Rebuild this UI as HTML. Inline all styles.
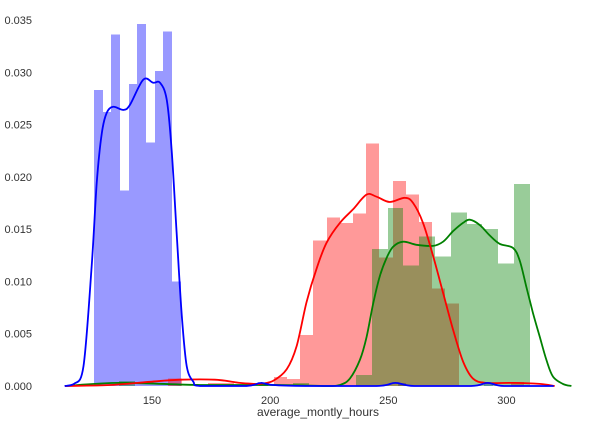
<!DOCTYPE html>
<html><head><meta charset="utf-8"><style>
html,body{margin:0;padding:0;background:#fff;}
svg{display:block;font-family:"Liberation Sans",Arial,sans-serif;}
</style></head><body>
<svg id="chart" width="604" height="424" xmlns="http://www.w3.org/2000/svg">
<g id="bars"></g>
<g id="lines"></g>
<g id="axes"></g>
<text x="318" y="416" text-anchor="middle" font-size="12" fill="#333">average_montly_hours</text>
</svg>
<script>
// x tick values and y tick values
const xTicks = [150, 200, 250, 300];
const yTicks = [0, 0.005, 0.010, 0.015, 0.020, 0.025, 0.030, 0.035];
const yTickLabels = ["0.000","0.005","0.010","0.015","0.020","0.025","0.030","0.035"];

// blue histogram: bins start, width, densities
const blueStart = 125.5;
const blueWidth = 3.67;
const blueHist = [0.0283,0.0262,0.0336,0.0187,0.0289,0.0346,0.0233,0.0301,0.0339,0.0100,
 0,0,0,0,0,0,0,0,0,0.0003, 0,0,0,0,0,0,0,0,0,0, 0,0,0,0,0,0.0003,0,0,0,0, 0,0,0,0,0,0.0003];
// red histogram
const redStart = 156.96;
const redWidth = 5.58;
const redHist = [0.0007,0,0,0.0003,0.0003,0,0,0,0.00086,0.00067,
 0.0049,0.0139,0.0161,0.0156,0.0165,0.0232,0.0123,0.0196,0.0183,0.0157,0.0093,0.0079,
 0,0,0,0,0.0004];
// green histogram
const greenStart = 135.95;
const greenWidth = 6.69;
const greenHist = [0.0005,0,0,0,0,0,0,0,0,0,0,0.0003,0,0,0,
 0.00105,0.0131,0.0170,0.0115,0.0143,0.0124,0.0166,0.0155,0.0150,0.0117,0.0193];

// KDE curves (x values, densities)
const blueKdeX = [113,117,121.0,124.5,126.6,128.7,130.8,133.6,137.9,140.7,146.3,150.5,153.4,156.2,158.3,160.4,162.6,164.7,167.5,170.3,190,196,201,215,245,253,261,285,292,299,320];
const blueKdeY = [0,0.0002,0.0019,0.0115,0.0194,0.0241,0.0261,0.0267,0.0264,0.0269,0.0293,0.0290,0.0290,0.0274,0.0226,0.0147,0.0067,0.0019,0.0004,0,0,0.0003,0.0001,0,0,0.0003,0,0,0.0003,0,0];
const redKdeX = [113.2,132.2,149.2,161.8,176.6,187.2,193.6,195.7,201.3,207.0,211.2,215.4,219.6,223.9,229.5,235.1,240.8,245.0,250.6,257.0,260.5,264.7,269.0,273.2,277.4,281.7,285.9,291.5,302.8,314.1,320.4];
const redKdeY = [0,0.0001,0.0004,0.0006,0.0006,0.0003,0.0002,0.0002,0.0005,0.0016,0.0038,0.0080,0.0112,0.0137,0.0156,0.0169,0.0183,0.0181,0.0176,0.0180,0.0175,0.0156,0.0124,0.0089,0.0054,0.0023,0.0007,0.0003,0.0003,0.0002,0];
const greenKdeX = [113.2,136.5,170.3,204.1,223.9,229.5,233.7,238.0,240.8,243.6,246.4,249.2,252.0,256.3,261.9,268.9,273.2,277.4,281.6,284.5,288.7,292.9,297.1,302.8,305.6,308.4,311.2,314.1,316.9,319.7,323.9,327.5];
const greenKdeY = [0,0.0003,0.0001,0.0001,0,0.0001,0.0007,0.0025,0.0047,0.0079,0.0105,0.0122,0.0133,0.0138,0.0135,0.0134,0.0138,0.0148,0.0156,0.0159,0.0154,0.0144,0.0136,0.0132,0.0120,0.0095,0.0070,0.0047,0.0025,0.0009,0.0002,0];

const NS = "http://www.w3.org/2000/svg";
function xs(v){ return 152 + (v - 150) * 2.363; }
function ys(d){ return 386 - d / 0.035 * 366; }

function drawHist(g, start, width, vals, color, name){
  vals.forEach((d, i) => {
    if (d <= 0) return;
    const r = document.createElementNS(NS, "rect");
    const x0 = Math.round(xs(start + i * width)), x1 = Math.round(xs(start + (i + 1) * width));
    r.setAttribute("x", x0); r.setAttribute("width", x1 - x0);
    r.setAttribute("y", ys(d)); r.setAttribute("height", ys(0) - ys(d));
    r.setAttribute("fill", color); r.setAttribute("fill-opacity", "0.4");
    r.setAttribute("shape-rendering", "crispEdges");
    
    
    g.appendChild(r);
  });
}
function drawLine(g, xv, yv, color, name){
  const p = document.createElementNS(NS, "path");
  const pts = xv.map((x, i) => [xs(x), ys(yv[i])]);
  let dstr = "M" + pts[0][0].toFixed(1) + " " + pts[0][1].toFixed(1);
  for (let i = 0; i < pts.length - 1; i++) {
    const p0 = pts[Math.max(0, i - 1)], p1 = pts[i], p2 = pts[i + 1], p3 = pts[Math.min(pts.length - 1, i + 2)];
    const c1 = [p1[0] + (p2[0] - p0[0]) / 6, p1[1] + (p2[1] - p0[1]) / 6];
    const c2 = [p2[0] - (p3[0] - p1[0]) / 6, p2[1] - (p3[1] - p1[1]) / 6];
    dstr += " C" + c1[0].toFixed(1) + " " + Math.min(386, c1[1]).toFixed(1) + " " + c2[0].toFixed(1) + " " + Math.min(386, c2[1]).toFixed(1) + " " + p2[0].toFixed(1) + " " + p2[1].toFixed(1);
  }
  p.setAttribute("d", dstr);
  p.setAttribute("fill", "none"); p.setAttribute("stroke", color);
  p.setAttribute("stroke-width", "1.8"); p.setAttribute("stroke-linejoin", "round");
  
  
  g.appendChild(p);
}
const bars = document.getElementById("bars");
drawHist(bars, blueStart, blueWidth, blueHist, "#0000ff", "blue");
drawHist(bars, redStart, redWidth, redHist, "#ff0000", "red");
drawHist(bars, greenStart, greenWidth, greenHist, "#008000", "green");
const lines = document.getElementById("lines");
drawLine(lines, greenKdeX, greenKdeY, "#008000", "green");
drawLine(lines, redKdeX, redKdeY, "#ff0000", "red");
drawLine(lines, blueKdeX, blueKdeY, "#0000ff", "blue");

const axes = document.getElementById("axes");
xTicks.forEach(v => {
  const t = document.createElementNS(NS, "text");
  t.setAttribute("x", xs(v)); t.setAttribute("y", 404);
  t.setAttribute("text-anchor", "middle"); t.setAttribute("font-size", "11"); t.setAttribute("fill", "#333");
  t.textContent = String(v);
  
  
  axes.appendChild(t);
});
yTicks.forEach((v, i) => {
  const t = document.createElementNS(NS, "text");
  t.setAttribute("x", 32); t.setAttribute("y", ys(v) + 4);
  t.setAttribute("text-anchor", "end"); t.setAttribute("font-size", "11"); t.setAttribute("fill", "#333");
  t.textContent = yTickLabels[i];
  
  
  axes.appendChild(t);
});
</script>
</body></html>
